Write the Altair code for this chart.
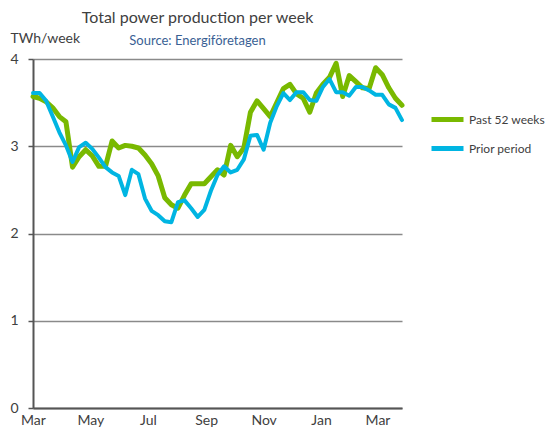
import altair as alt
import pandas as pd

series_names = ["Past 52 weeks", "Prior period"]
series_colors = ["#79B900", "#00B5E2"]

start_date = "2015-03-01"

past_52_weeks = [
    3.57, 3.55, 3.51, 3.44, 3.34, 3.28, 2.76, 2.88, 2.96, 2.89,
    2.77, 2.77, 3.06, 2.98, 3.01, 3.00, 2.98, 2.90, 2.80, 2.66,
    2.41, 2.33, 2.29, 2.44, 2.57, 2.57, 2.57, 2.65, 2.73, 2.67,
    3.01, 2.88, 2.98, 3.39, 3.52, 3.43, 3.34, 3.50, 3.66, 3.71,
    3.60, 3.55, 3.39, 3.61, 3.71, 3.79, 3.95, 3.57, 3.81, 3.74,
    3.67, 3.66, 3.90, 3.82, 3.67, 3.55, 3.47,
]

prior_period = [
    3.61, 3.61, 3.52, 3.34, 3.16, 3.01, 2.82, 2.99, 3.04, 2.97,
    2.87, 2.76, 2.70, 2.66, 2.44, 2.73, 2.68, 2.40, 2.26, 2.21,
    2.14, 2.13, 2.36, 2.38, 2.29, 2.19, 2.27, 2.49, 2.67, 2.77,
    2.70, 2.73, 2.85, 3.12, 3.13, 2.96, 3.27, 3.46, 3.61, 3.53,
    3.62, 3.62, 3.53, 3.52, 3.68, 3.77, 3.62, 3.62, 3.58, 3.68,
    3.68, 3.64, 3.59, 3.59, 3.48, 3.44, 3.30,
]

y_ticks = [0, 1, 2, 3, 4]

n = len(past_52_weeks)
dates = pd.date_range(start_date, periods=n, freq="7D").strftime("%Y-%m-%d").tolist()

df = pd.DataFrame({
    "date": dates + dates,
    "value": past_52_weeks + prior_period,
    "series": [series_names[0]] * n + [series_names[1]] * n,
})

FONT = "Lato"
TEXT = "#404040"

color = alt.Color(
    "series:N",
    scale=alt.Scale(domain=series_names, range=series_colors),
    legend=alt.Legend(
        title=None,
        orient="none",
        legendX=396,
        legendY=42,
        symbolType="stroke",
        symbolSize=1024,
        symbolStrokeWidth=5,
        labelFontSize=12,
        labelColor=TEXT,
        labelFont=FONT,
        labelOffset=3,
        rowPadding=-3,
    ),
)

x = alt.X(
    "date:T",
    scale=alt.Scale(
        type="utc",
        nice=False,
        domain=[alt.DateTime(year=2015, month=3, date=1, utc=True),
                alt.DateTime(year=2016, month=3, date=27, utc=True)],
    ),
    axis=alt.Axis(
        title=None,
        labelExpr="utcFormat(datum.value, '%b')",
        tickCount={"interval": "month", "step": 2},
        ticks=False,
        grid=False,
        domainColor="#555555",
        domainWidth=2,
        labelFontSize=14,
        labelColor=TEXT,
        labelFont=FONT,
        labelPadding=5,
        labelOverlap=False,
        labelFlush=False,
    ),
)

y = alt.Y(
    "value:Q",
    scale=alt.Scale(domain=[0, 4], nice=False),
    axis=alt.Axis(
        values=y_ticks,
        format="d",
        tickSize=5,
        tickColor="#555555",
        tickWidth=1.5,
        domainColor="#555555",
        domainWidth=2,
        gridColor="#8A8A8A",
        gridWidth=1.5,
        labelFontSize=14,
        labelColor=TEXT,
        labelFont=FONT,
        labelPadding=10,
        title="TWh/week",
        titleAngle=0,
        titleAlign="left",
        titleBaseline="middle",
        titleX=-23,
        titleY=-21,
        titleFontSize=14,
        titleFontWeight="normal",
        titleColor=TEXT,
        titleFont=FONT,
    ),
)

base = alt.Chart(df)

green = base.transform_filter(alt.datum.series == series_names[0]).mark_line(
    strokeWidth=5, strokeJoin="round", strokeCap="round"
).encode(x=x, y=y, color=color)

blue = base.transform_filter(alt.datum.series == series_names[1]).mark_line(
    strokeWidth=4, strokeJoin="round", strokeCap="round"
).encode(x=x, y=y, color=color)

chart = alt.layer(green, blue).properties(
    width=369,
    height=349,
    autosize=alt.AutoSizeParams(type="none"),
    padding={"left": 25, "top": 51, "right": 146, "bottom": 20},
    title=alt.TitleParams(
        text="Total power production per week",
        subtitle="Source: Energiföretagen",
        anchor="middle",
        dx=-20,
        offset=-17,
        fontSize=16,
        fontWeight="normal",
        color=TEXT,
        font=FONT,
        subtitleFont=FONT,
        subtitleFontSize=13,
        subtitleColor="#3A5F94",
        subtitlePadding=9,
    ),
).configure_view(stroke=None)

chart.save("out.html", embed_options={"renderer": "svg", "actions": False})
